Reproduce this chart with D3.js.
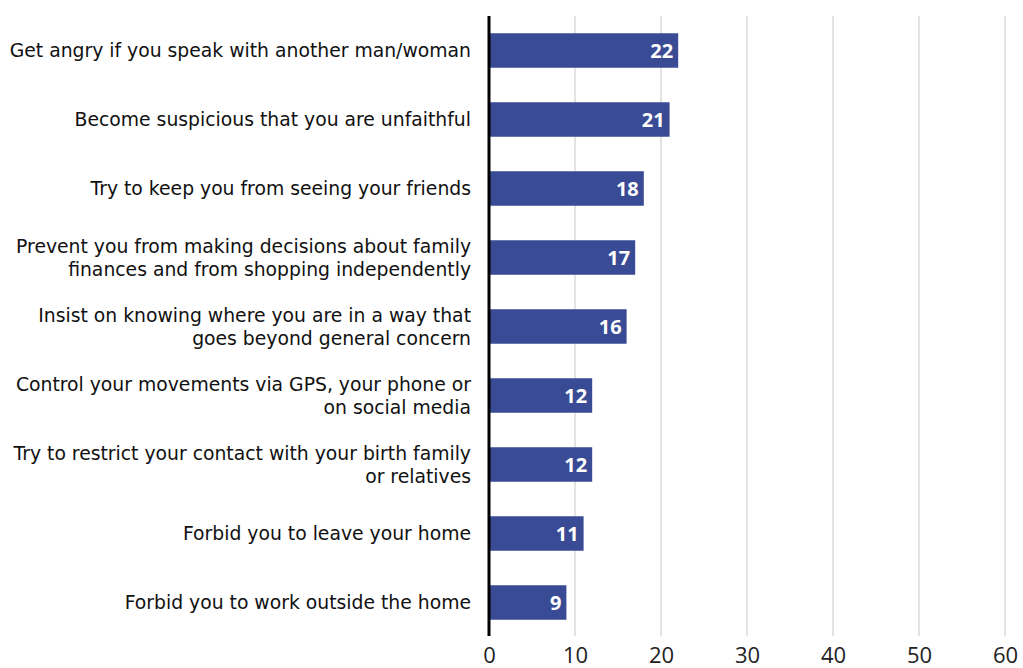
<!DOCTYPE html>
<html>
<head>
<meta charset="utf-8">
<script src="https://cdn.jsdelivr.net/npm/d3@7/dist/d3.min.js"></script>
<style>
  html, body { margin: 0; padding: 0; background: #fff; }
  svg { display: block; }
</style>
</head>
<body>
<svg id="chart" width="1023" height="668"></svg>
<script>
// Controlling behaviours, share of respondents (%)
const categories = [
  ["Get angry if you speak with another man/woman"],
  ["Become suspicious that you are unfaithful"],
  ["Try to keep you from seeing your friends"],
  ["Prevent you from making decisions about family", "finances and from shopping independently"],
  ["Insist on knowing where you are in a way that", "goes beyond general concern"],
  ["Control your movements via GPS, your phone or", "on social media"],
  ["Try to restrict your contact with your birth family", "or relatives"],
  ["Forbid you to leave your home"],
  ["Forbid you to work outside the home"]
];
const values = [22, 21, 18, 17, 16, 12, 12, 11, 9];
const tickValues = [0, 10, 20, 30, 40, 50, 60];

const svg = d3.select("#chart");
const font = "'Open Sans', 'Noto Sans', sans-serif";
const labelFont = "'DejaVu Sans', sans-serif";

const x = d3.scaleLinear().domain([0, 60]).range([489, 1005]);
const y = d3.scaleBand()
  .domain(d3.range(categories.length))
  .range([16, 637])
  .paddingInner(0.5)
  .paddingOuter(0.25);

// vertical gridlines
svg.append("g")
  .selectAll("line")
  .data(tickValues.filter(d => d > 0))
  .join("line")
  .attr("x1", d => x(d)).attr("x2", d => x(d))
  .attr("y1", 16).attr("y2", 636)
  .attr("stroke", "#c8c8c8")
  .attr("stroke-width", 1);

// bars
svg.append("g")
  .selectAll("rect")
  .data(values)
  .join("rect")
  .attr("x", x(0))
  .attr("y", (d, i) => y(i))
  .attr("width", d => x(d) - x(0))
  .attr("height", y.bandwidth())
  .attr("fill", "#3a4b96");

// value labels inside bar ends
svg.append("g")
  .selectAll("text")
  .data(values)
  .join("text")
  .attr("x", d => x(d) - 5)
  .attr("y", (d, i) => y(i) + y.bandwidth() / 2)
  .attr("dy", "0.36em")
  .attr("text-anchor", "end")
  .attr("fill", "#fff")
  .attr("font-family", font)
  .attr("font-weight", "bold")
  .attr("font-size", 20)
  .text(d => d);

// zero axis line
svg.append("line")
  .attr("x1", x(0)).attr("x2", x(0))
  .attr("y1", 16).attr("y2", 636)
  .attr("stroke", "#000")
  .attr("stroke-width", 3);

// category labels, one text element per line
const lineH = 23;
const labelLines = categories.flatMap((lines, i) =>
  lines.map((t, k) => ({ t, i, off: (k - (lines.length - 1) / 2) * lineH })));
svg.append("g")
  .selectAll("text")
  .data(labelLines)
  .join("text")
  .attr("text-anchor", "end")
  .attr("fill", "#111")
  .attr("font-family", labelFont)
  .attr("font-size", 18.8)
  .attr("x", 471)
  .attr("y", d => y(d.i) + y.bandwidth() / 2 + d.off)
  .attr("dy", "0.36em")
  .text(d => d.t);

// bottom tick labels
const xAxis = d3.axisBottom(x).tickValues(tickValues).tickSize(0).tickPadding(0);
const gx = svg.append("g")
  .attr("transform", "translate(0,647)")
  .call(xAxis);
gx.select(".domain").remove();
gx.selectAll("text")
  .attr("font-family", font)
  .attr("font-size", 22)
  .attr("fill", "#222");
</script>
</body>
</html>
